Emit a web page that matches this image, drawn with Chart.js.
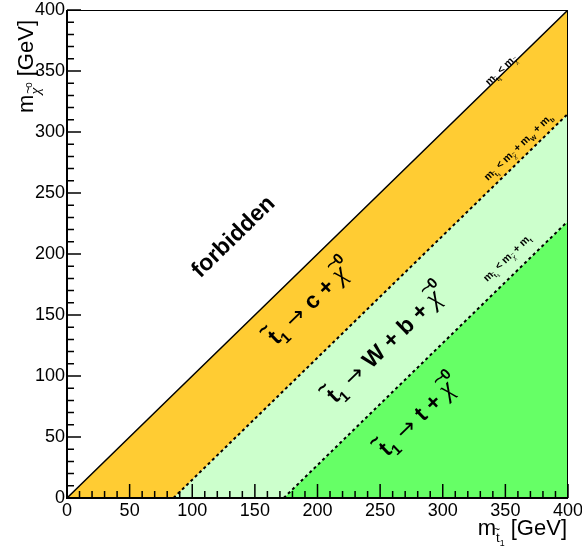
<!DOCTYPE html>
<html>
<head>
<meta charset="utf-8">
<script src="https://cdn.jsdelivr.net/npm/chart.js@4/dist/chart.umd.min.js"></script>
<style>
  html, body { margin: 0; background: #fff; }
  #wrap { width: 582px; height: 553px; }
</style>
</head>
<body>
<div id="wrap"><canvas id="massPlane"></canvas></div>
<script>
// stop mass knots (GeV) and the LSP mass of each kinematic boundary at them
const stopMass = [0, 85, 173, 400];
const lspEqualStop = [0, 85, 173, 400];   // m_chi = m_stop
const lspStopWb = [0, 0, 88, 315];        // m_chi = m_stop - mW - mb
const lspStopTop = [0, 0, 0, 227];        // m_chi = m_stop - mt
const axisTicks = [0, 50, 100, 150, 200, 250, 300, 350, 400];

const FONT = '"Liberation Sans", Arial, sans-serif';
const SERIF = '"Liberation Serif", serif';

const pts = ys => stopMass.map((x, i) => ({ x: x, y: ys[i] }));
// boundary line only where it leaves the x axis
const edge = ys => pts(ys).filter((p, i, arr) => p.y > 0 || (arr[i + 1] && arr[i + 1].y > 0));

function fontOf(r, size) {
  return (r.i ? 'italic ' : '') + (r.b ? 'bold ' : '') + (size * (r.s || 1)) + 'px ' + (r.f || FONT);
}

// runs: t text, b bold, i italic, f family, s scale, dy baseline shift (em), tl tilde height (em of run)
function drawRich(ctx, runs, x, y, angle, size, align) {
  ctx.save();
  ctx.translate(x, y);
  ctx.rotate(angle);
  ctx.fillStyle = '#000';
  ctx.textAlign = 'left';
  let w = 0;
  runs.forEach(r => {
    ctx.font = fontOf(r, size);
    r._w = ctx.measureText(r.t).width;
    w += r._w;
  });
  let cx = align === 'right' ? -w : (align === 'left' ? 0 : -w / 2);
  const base = align === 'center' ? size * 0.36 : 0;
  runs.forEach(r => {
    const rs = size * (r.s || 1);
    const by = base + (r.dy || 0) * size;
    ctx.font = fontOf(r, size);
    ctx.textBaseline = 'alphabetic';
    ctx.fillText(r.t, cx, by);
    if (r.tl) {
      ctx.font = (r.b ? 'bold ' : '') + (rs * 0.85) + 'px ' + FONT;
      ctx.textAlign = 'center';
      ctx.textBaseline = 'middle';
      ctx.fillText('~', cx + r._w / 2 + (r.tx || 0) * rs, by - r.tl * rs);
      ctx.textAlign = 'left';
    }
    cx += r._w;
  });
  ctx.restore();
}

const tee = (o) => Object.assign({ t: 't', tl: 0.88, tx: -0.08 }, o);
const chi = (o) => Object.assign({ t: '\u03c7', f: SERIF, i: 1, tl: 0.72, tx: 0.08 }, o);

const decay = prod => [
  tee({ b: 1 }), { t: '1', b: 1, s: 0.65, dy: 0.25 },
  { t: ' \u2192 ', f: '"DejaVu Sans"' },
  { t: prod + ' + ', b: 1 }, chi({ s: 1.15 }), { t: '0', b: 1, s: 0.65, dy: -0.62 }
];
const mStop = [{ t: 'm', b: 1 }, tee({ b: 1, s: 0.6, dy: 0.3 }), { t: '1', b: 1, s: 0.4, dy: 0.45 }];
const mChi = [{ t: ' < m', b: 1 }, chi({ s: 0.7, dy: 0.3 })];

const regionLabels = [
  { runs: [{ t: 'forbidden', b: 1 }], x: 132, y: 215, size: 23 },
  { runs: decay('c'), x: 194, y: 161, size: 23 },
  { runs: decay('W + b'), x: 255, y: 127, size: 23 },
  { runs: decay('t'), x: 281, y: 68, size: 23 },
  { runs: mStop.concat(mChi), x: 346, y: 351, size: 10.5 },
  { runs: mStop.concat(mChi, [{ t: ' + m', b: 1 }, { t: 'W', b: 1, s: 0.6, dy: 0.3 }, { t: ' + m', b: 1 }, { t: 'b', b: 1, s: 0.6, dy: 0.3 }]), x: 360, y: 288, size: 10.5 },
  { runs: mStop.concat(mChi, [{ t: ' + m', b: 1 }, { t: 't', b: 1, s: 0.6, dy: 0.3 }]), x: 351, y: 197, size: 10.5 }
];

const decor = {
  id: 'decor',
  afterDatasetsDraw(chart) {
    const { ctx, chartArea: a, scales: { x, y } } = chart;
    ctx.save();
    // frame
    ctx.strokeStyle = '#000';
    ctx.lineWidth = 1;
    ctx.strokeRect(a.left + 0.5, a.top + 0.5, a.right - a.left - 1, a.bottom - a.top);
    ctx.lineWidth = 2;
    ctx.beginPath();
    ctx.moveTo(a.left, a.top); ctx.lineTo(a.left, a.bottom); ctx.lineTo(a.right, a.bottom);
    ctx.stroke();
    // inward ticks, ROOT style
    ctx.lineWidth = 1.5;
    ctx.beginPath();
    for (let v = 0; v <= 400; v += 10) {
      const len = v % 50 === 0 ? 14 : 7;
      const px = x.getPixelForValue(v);
      ctx.moveTo(px, a.bottom); ctx.lineTo(px, a.bottom - len);
      const py = y.getPixelForValue(v);
      ctx.moveTo(a.left, py); ctx.lineTo(a.left + len, py);
    }
    ctx.stroke();
    ctx.restore();

    const ang = Math.atan2(y.getPixelForValue(100) - y.getPixelForValue(0),
                           x.getPixelForValue(100) - x.getPixelForValue(0));
    regionLabels.forEach(l => {
      drawRich(ctx, l.runs, x.getPixelForValue(l.x), y.getPixelForValue(l.y), ang, l.size, 'center');
    });

    // axis titles
    drawRich(ctx, [{ t: 'm' }, chi({ s: 0.7, dy: 0.3 }), { t: '0', s: 0.45, dy: -0.05 }, { t: ' [GeV]' }],
      33, 20, -Math.PI / 2, 22, 'right');
    drawRich(ctx, [{ t: 'm' }, tee({ s: 0.6, dy: 0.3 }), { t: '1', s: 0.4, dy: 0.5 }, { t: ' [GeV]' }],
      567, 535, 0, 22, 'right');
  }
};

const fixTicks = s => { s.ticks = axisTicks.map(v => ({ value: v })); };
const fillOnly = { borderWidth: 0, pointRadius: 0 };
const lineOnly = { borderColor: '#000', pointRadius: 0, fill: false };

new Chart(document.getElementById('massPlane'), {
  type: 'line',
  data: {
    datasets: [
      { ...fillOnly, data: pts(lspEqualStop), fill: '+1', backgroundColor: '#ffcc33' },
      { ...fillOnly, data: pts(lspStopWb), fill: '+1', backgroundColor: '#ccffcc' },
      { ...fillOnly, data: pts(lspStopTop), fill: 'origin', backgroundColor: '#66ff66' },
      { ...lineOnly, data: pts(lspEqualStop), borderWidth: 1.5 },
      { ...lineOnly, data: edge(lspStopWb), borderWidth: 2, borderDash: [3, 3] },
      { ...lineOnly, data: edge(lspStopTop), borderWidth: 2, borderDash: [3, 3] }
    ]
  },
  options: {
    responsive: true,
    maintainAspectRatio: false,
    animation: false,
    layout: { padding: { left: 0, top: 10, right: 14, bottom: 0 } },
    plugins: {
      legend: { display: false },
      tooltip: { enabled: false },
      filler: { drawTime: 'beforeDatasetsDraw' }
    },
    scales: {
      x: {
        type: 'linear', min: 0, max: 400,
        afterBuildTicks: fixTicks,
        afterFit: s => { s.height = 55; s.paddingLeft = 0; s.paddingRight = 0; },
        grid: { display: false, drawTicks: false },
        border: { display: false },
        ticks: { color: '#000', font: { family: FONT, size: 18 }, padding: 2, maxRotation: 0 }
      },
      y: {
        type: 'linear', min: 0, max: 400,
        afterBuildTicks: fixTicks,
        afterFit: s => { s.width = 67; s.paddingTop = 0; s.paddingBottom = 0; },
        grid: { display: false, drawTicks: false },
        border: { display: false },
        ticks: { color: '#000', font: { family: FONT, size: 18 }, padding: 2 }
      }
    }
  },
  plugins: [decor]
});
</script>
</body>
</html>
